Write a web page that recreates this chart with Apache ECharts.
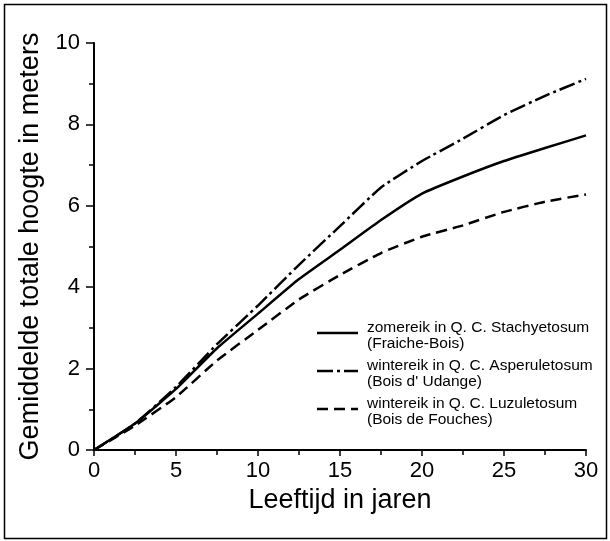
<!DOCTYPE html>
<html>
<head>
<meta charset="utf-8">
<script src="https://cdn.jsdelivr.net/npm/echarts@6/dist/echarts.min.js"></script>
<style>
  html, body { margin: 0; padding: 0; background: #fff; }
  #chart { width: 610px; height: 541px; }
</style>
</head>
<body>
<div id="chart"></div>
<script>
// Age in years (x) and mean total height in metres (y)
const ages = [0, 2.5, 5, 7.5, 10, 12.5, 15, 17.5, 20, 22.5, 25, 27.5, 30];

const zomereikStachyetosum = [0, 0.65, 1.5, 2.5, 3.35, 4.2, 4.92, 5.65, 6.3, 6.72, 7.1, 7.42, 7.73];
const wintereikAsperuletosum = [0, 0.65, 1.55, 2.6, 3.55, 4.55, 5.5, 6.45, 7.1, 7.65, 8.23, 8.7, 9.12];
const wintereikLuzuletosum = [0, 0.6, 1.3, 2.2, 2.95, 3.7, 4.3, 4.84, 5.24, 5.52, 5.85, 6.1, 6.28];

const seriesNames = [
  'zomereik in Q. C. Stachyetosum',
  'wintereik in Q. C. Asperuletosum',
  'wintereik in Q. C. Luzuletosum'
];
const seriesSites = ['(Fraiche-Bois)', "(Bois d' Udange)", '(Bois de Fouches)'];

const xTicks = [0, 5, 10, 15, 20, 25, 30];
const yTicks = [0, 2, 4, 6, 8, 10];

const xTitle = 'Leeftijd in jaren';
const yTitle = 'Gemiddelde totale hoogte in meters';

const FONT = '"Liberation Sans", Arial, Helvetica, sans-serif';
const INK = '#000';

const dashStyles = ['solid', [16, 4, 3, 4], [11, 6]];
const allValues = [zomereikStachyetosum, wintereikAsperuletosum, wintereikLuzuletosum];

const pairs = vals => ages.map((a, i) => [a, vals[i]]);

const chart = echarts.init(document.getElementById('chart'), null, { renderer: 'canvas' });

// Legend drawn as line samples plus two-line labels
const legendTop = 333;
const legendStep = 38;
const legendElems = [];
seriesNames.forEach((name, i) => {
  const y = legendTop + i * legendStep;
  legendElems.push({
    type: 'line',
    shape: { x1: 317, y1: y, x2: 358, y2: y },
    style: {
      stroke: INK,
      lineWidth: 2.5,
      lineDash: dashStyles[i] === 'solid' ? null : dashStyles[i]
    }
  });
  legendElems.push({
    type: 'text',
    x: 367,
    y: y - 13,
    style: {
      text: name + '\n' + seriesSites[i],
      font: '15.5px ' + FONT,
      fill: INK,
      lineHeight: 16,
      textVerticalAlign: 'top'
    }
  });
});

const option = {
  animation: false,
  backgroundColor: '#fff',
  grid: { left: 94, right: 24, top: 43, bottom: 91, containLabel: false },
  xAxis: {
    type: 'value',
    min: 0, max: 30, interval: 5,
    name: xTitle,
    nameLocation: 'middle',
    nameGap: 32,
    nameTextStyle: { fontFamily: FONT, fontSize: 27, color: INK },
    axisLine: { show: true, lineStyle: { color: INK, width: 2 } },
    axisTick: { show: true, length: 6, lineStyle: { color: INK, width: 1.5 } },
    minorTick: { show: true, splitNumber: 2, length: 5, lineStyle: { color: INK, width: 1.5 } },
    axisLabel: {
      fontFamily: FONT, fontSize: 22, color: INK, margin: 10,
      customValues: xTicks
    },
    splitLine: { show: false }
  },
  yAxis: {
    type: 'value',
    min: 0, max: 10, interval: 2,
    name: yTitle,
    nameLocation: 'middle',
    nameGap: 50,
    nameRotate: 90,
    nameTextStyle: { fontFamily: FONT, fontSize: 27, color: INK },
    axisLine: { show: true, lineStyle: { color: INK, width: 2 } },
    axisTick: { show: true, length: 8, lineStyle: { color: INK, width: 1.5 } },
    minorTick: { show: true, splitNumber: 2, length: 5, lineStyle: { color: INK, width: 1.5 } },
    axisLabel: {
      fontFamily: FONT, fontSize: 22, color: INK, margin: 14,
      customValues: yTicks
    },
    splitLine: { show: false }
  },
  series: seriesNames.map((name, i) => ({
    name: name,
    type: 'line',
    data: pairs(allValues[i]),
    showSymbol: false,
    symbol: 'none',
    smooth: 0.15,
    lineStyle: { color: INK, width: 2.5, type: dashStyles[i] },
    z: 3
  })),
  graphic: [
    {
      type: 'rect',
      shape: { x: 4.5, y: 4.5, width: 602, height: 534 },
      style: { fill: null, stroke: INK, lineWidth: 1.5 },
      silent: true
    },
    { type: 'group', children: legendElems }
  ]
};

chart.setOption(option);
</script>
</body>
</html>
